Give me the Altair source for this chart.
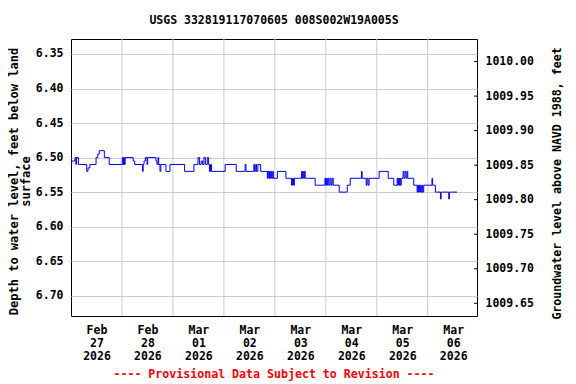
import altair as alt
import pandas as pd

TITLE = "USGS 332819117070605 008S002W19A005S"
FOOTER = "---- Provisional Data Subject to Revision ----"
LEFT_TITLE = ["Depth to water level, feet below land", "surface"]
RIGHT_TITLE = "Groundwater level above NAVD 1988, feet"
DATUM = 1016.361
FONT = "DejaVu Sans Mono"

# hours since 2026-02-27 00:00
hours = [0, 0.3, 1.9, 2.3, 2.6, 3.5, 7.4, 8.0, 8.9, 11.8, 12.6, 13.3, 15.7, 18.0,
         24.2, 24.5, 24.8, 25.2, 25.5, 29.3, 30.0, 33.7, 34.0, 34.4, 35.0, 35.8, 36.1,
         40.0, 40.5, 41.0, 41.3, 41.9, 42.3, 44.7, 46.6, 53.5, 57.9, 59.8, 60.5, 61.3,
         62.0, 62.6, 63.3, 64.2, 64.8, 65.2, 65.7, 66.2, 72.6, 77.8, 82.0, 82.4, 86.1,
         86.5, 87.0, 87.4, 88.0, 89.3, 92.5, 92.8, 93.2, 93.5, 93.8, 94.2, 94.5, 95.0,
         95.3, 97.2, 101.2, 103.9, 104.3, 104.8, 105.2, 108.6, 108.9, 109.2, 109.6, 109.9,
         110.3, 115.0, 119.6, 119.9, 120.3, 120.7, 121.1, 121.5, 122.0, 122.5, 123.0,
         123.5, 126.3, 130.1, 131.5, 136.8, 137.1, 139.0, 139.4, 139.9, 140.4, 145.1,
         149.4, 152.0, 153.6, 153.9, 154.2, 154.5, 154.8, 155.1, 155.5, 156.4, 156.8,
         157.3, 157.8, 158.3, 158.6, 161.4, 163.0, 163.3, 163.6, 163.9, 164.2, 164.5,
         164.8, 165.2, 165.6, 166.1, 170.0, 170.3, 171.6, 174.0, 174.3, 177.9, 178.2,
         181.8]
depth = [6.51, 6.505, 6.50, 6.51, 6.50, 6.51, 6.52, 6.515, 6.51, 6.50, 6.495, 6.49, 6.50, 6.51,
         6.50, 6.51, 6.50, 6.51, 6.50, 6.505, 6.51, 6.52, 6.51, 6.505, 6.50, 6.51, 6.50,
         6.505, 6.51, 6.50, 6.51, 6.52, 6.51, 6.52, 6.51, 6.52, 6.51, 6.50, 6.51, 6.505,
         6.51, 6.50, 6.51, 6.50, 6.51, 6.52, 6.51, 6.52, 6.51, 6.52, 6.51, 6.52, 6.51,
         6.52, 6.51, 6.52, 6.51, 6.52, 6.53, 6.52, 6.53, 6.52, 6.53, 6.52, 6.53, 6.52,
         6.53, 6.52, 6.53, 6.54, 6.53, 6.54, 6.53, 6.52, 6.53, 6.52, 6.53, 6.52,
         6.53, 6.54, 6.53, 6.54, 6.53, 6.54, 6.53, 6.54, 6.53, 6.54, 6.53,
         6.54, 6.55, 6.54, 6.53, 6.52, 6.53, 6.54, 6.53, 6.54, 6.53, 6.52,
         6.53, 6.54, 6.53, 6.54, 6.53, 6.54, 6.53, 6.54, 6.53, 6.52, 6.53,
         6.52, 6.53, 6.52, 6.53, 6.54, 6.55, 6.54, 6.55, 6.54, 6.55, 6.54,
         6.55, 6.54, 6.55, 6.54, 6.53, 6.54, 6.55, 6.56, 6.55, 6.56, 6.55,
         6.55]

day_labels = [["Feb", "27", "2026"], ["Feb", "28", "2026"], ["Mar", "01", "2026"],
              ["Mar", "02", "2026"], ["Mar", "03", "2026"], ["Mar", "04", "2026"],
              ["Mar", "05", "2026"], ["Mar", "06", "2026"]]
day_centers = [12, 36, 60, 84, 108, 132, 156, 180]
day_bounds = [24, 48, 72, 96, 120, 144, 168]
left_ticks = [6.35, 6.40, 6.45, 6.50, 6.55, 6.60, 6.65, 6.70]
right_ticks = [1009.65, 1009.70, 1009.75, 1009.80, 1009.85, 1009.90, 1009.95, 1010.00]

X_DOMAIN = [0, 191.2]
Y_DOMAIN = [6.3283, 6.7294]
R_DOMAIN = [DATUM - Y_DOMAIN[1], DATUM - Y_DOMAIN[0]]

W, H = 406, 277

df = pd.DataFrame({"h": hours, "d": depth})
labels_js = "[" + ",".join("[" + ",".join("'%s'" % s for s in lab) + "]" for lab in day_labels) + "]"
label_expr = labels_js + "[round((datum.value - 12) / 24)]"

xscale = alt.Scale(domain=X_DOMAIN, nice=False, zero=False)
xaxis = alt.Axis(values=day_centers, labelExpr=label_expr, grid=False, ticks=False,
                 labelPadding=8, labelLineHeight=13, title=None, labelAngle=0,
                 labelOverlap=False, labelBaseline="top")

vgrid = alt.Chart(pd.DataFrame({"h": day_bounds})).mark_rule(
    color="#cccccc", strokeWidth=1
).encode(x=alt.X("h:Q", scale=xscale, axis=xaxis))

line = alt.Chart(df).mark_line(
    color="#0000ff", strokeWidth=1, interpolate="step-after"
).encode(
    x=alt.X("h:Q", scale=xscale, axis=xaxis),
    y=alt.Y("d:Q", scale=alt.Scale(domain=Y_DOMAIN, reverse=True, nice=False, zero=False),
            axis=alt.Axis(values=left_ticks, format=".2f", grid=True, gridColor="#cccccc",
                          ticks=False, labelPadding=8, title=LEFT_TITLE,
                          titleFontSize=12, titleLineHeight=12, titleAngle=-90,
                          titleX=-58, titleY=142, titleAlign="center",
                          titleBaseline="middle")),
)

right = alt.Chart(pd.DataFrame({"e": right_ticks})).mark_rule(color="black").encode(
    x=alt.value(W - 3), x2=alt.value(W),
    y=alt.Y("e:Q", scale=alt.Scale(domain=R_DOMAIN, nice=False, zero=False),
            axis=alt.Axis(orient="right", values=right_ticks, format=".2f", grid=False,
                          ticks=False, labelPadding=8, title=RIGHT_TITLE,
                          titleFontSize=11.6, titleAngle=-90, titleX=80, titleY=144,
                          titleAlign="center", titleBaseline="middle")),
)

footer = alt.Chart(pd.DataFrame({"t": [FOOTER]})).mark_text(
    color="#ff0000", font=FONT, fontWeight="bold", fontSize=11.6, baseline="middle"
).encode(text="t:N", x=alt.value(W / 2), y=alt.value(H + 59))

chart = alt.layer(vgrid, line, right, footer).resolve_scale(y="independent").properties(
    width=W, height=H,
    autosize=alt.AutoSizeParams(type="none"),
    padding={"left": 63, "top": 31, "right": 91, "bottom": 75},
    title=alt.Title(TITLE, font=FONT, fontSize=11.5, fontWeight="bold", offset=12,
                    anchor="middle"),
).configure_view(stroke="black", strokeWidth=1).configure_axis(
    labelFont=FONT, labelFontWeight="bold", labelFontSize=11.5, labelColor="black",
    titleFont=FONT, titleFontWeight="bold", titleColor="black", domain=False,
)

chart.save("out.html", embed_options={"renderer": "svg", "actions": False})
